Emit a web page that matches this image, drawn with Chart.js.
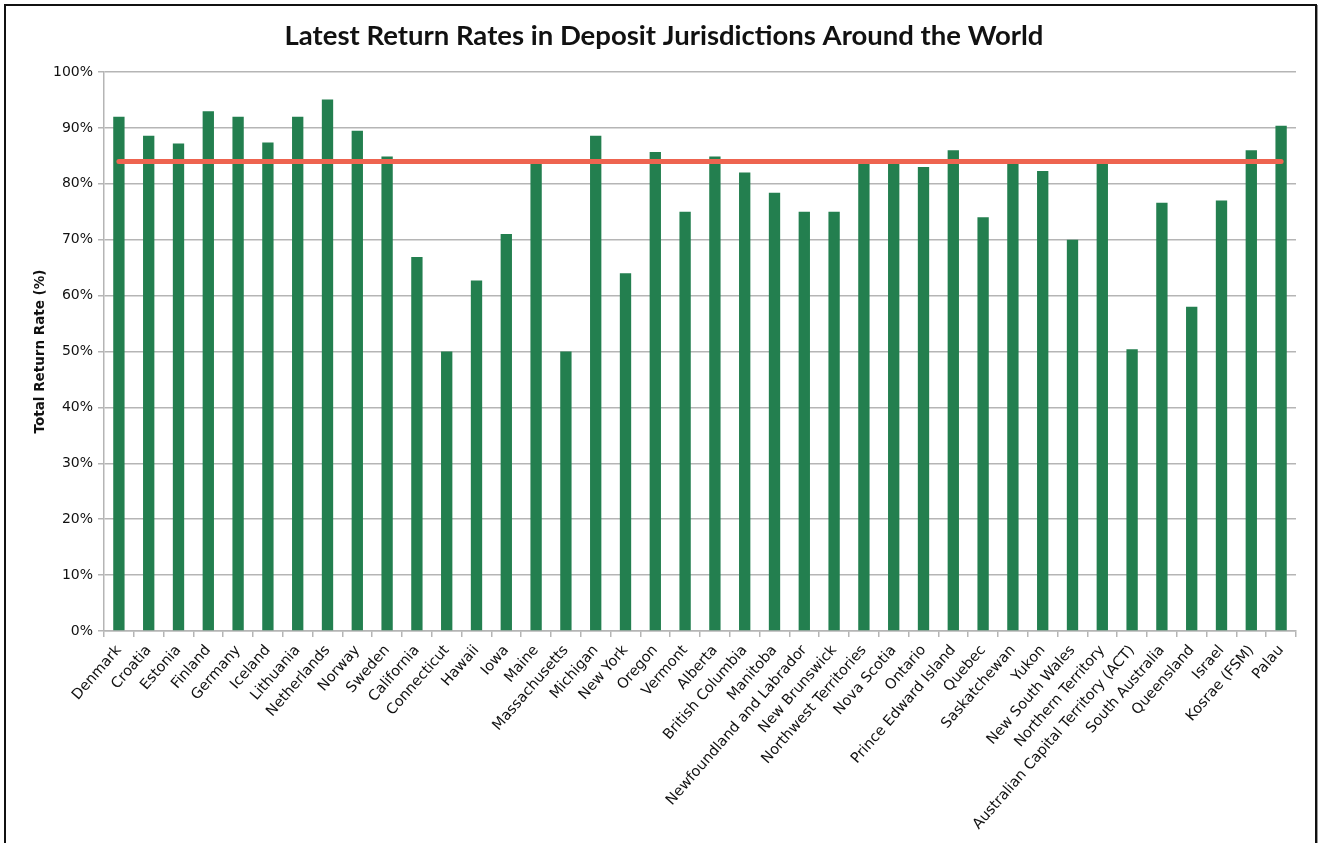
<!DOCTYPE html>
<html>
<head>
<meta charset="utf-8">
<script src="https://cdn.jsdelivr.net/npm/chart.js@4"></script>
<style>
  html, body { margin: 0; padding: 0; background: #fff; }
  #wrap { position: relative; width: 1320px; height: 843px; overflow: hidden; }
  #frame { position: absolute; left: 4px; top: 4px; width: 1309px; height: 900px;
           border: 2px solid #111; box-shadow: 1px 1px 0 #999; pointer-events: none; }
  canvas { position: absolute; left: 0; top: 0; }
</style>
</head>
<body>
<div id="wrap">
  <canvas id="c" width="1320" height="843"></canvas>
  <div id="frame"></div>
</div>
<script>
const chartTitle = "Latest Return Rates in Deposit Jurisdictions Around the World";
const yAxisTitle = "Total Return Rate (%)";

const categories = [
  "Denmark", "Croatia", "Estonia", "Finland", "Germany", "Iceland", "Lithuania",
  "Netherlands", "Norway", "Sweden", "California", "Connecticut", "Hawaii", "Iowa",
  "Maine", "Massachusetts", "Michigan", "New York", "Oregon", "Vermont", "Alberta",
  "British Columbia", "Manitoba", "Newfoundland and Labrador", "New Brunswick",
  "Northwest Territories", "Nova Scotia", "Ontario", "Prince Edward Island", "Quebec",
  "Saskatchewan", "Yukon", "New South Wales", "Northern Territory",
  "Australian Capital Territory (ACT)", "South Australia", "Queensland", "Israel",
  "Kosrae (FSM)", "Palau"
];

const returnRates = [
  92, 88.6, 87.2, 93, 92, 87.4, 92,
  95.1, 89.5, 84.9, 66.9, 50, 62.7, 71,
  83.8, 50, 88.6, 64, 85.7, 75, 84.9,
  82, 78.4, 75, 75,
  83.8, 83.8, 83, 86, 74,
  83.8, 82.3, 70, 83.8,
  50.4, 76.6, 58, 77,
  86, 90.4
];

const averageRate = 84;
const averageLine = [
  { x: "Denmark", y: averageRate },
  { x: "Palau", y: averageRate }
];

const yTicks = [0, 10, 20, 30, 40, 50, 60, 70, 80, 90, 100];

new Chart(document.getElementById('c'), {
  type: 'bar',
  data: {
    labels: categories,
    datasets: [
      {
        type: 'line',
        data: averageLine,
        borderColor: '#EE6450',
        borderWidth: 5,
        borderCapStyle: 'round',
        pointRadius: 0,
        fill: false,
        order: 0
      },
      {
        type: 'bar',
        data: returnRates,
        backgroundColor: '#237F4F',
        borderWidth: 0,
        categoryPercentage: 1,
        barPercentage: 0.38,
        order: 1
      }
    ]
  },
  options: {
    responsive: false,
    animation: false,
    layout: { padding: { left: 32, right: 24, top: 0, bottom: 0 } },
    plugins: {
      legend: { display: false },
      tooltip: { enabled: false },
      title: {
        display: true,
        text: chartTitle,
        color: '#111',
        font: { family: 'Lato', size: 27.5, weight: 'bold', lineHeight: 1.2 },
        padding: { top: 20, bottom: 19 }
      }
    },
    scales: {
      x: {
        grid: { drawOnChartArea: false, drawTicks: true, tickLength: 6, color: '#b5b5b5', lineWidth: 1.5 },
        border: { color: '#b5b5b5', width: 1.5 },
        ticks: {
          autoSkip: false, maxRotation: 49, minRotation: 49, padding: 5,
          color: '#111', font: { family: 'DejaVu Sans', size: 14.5 }
        },
        afterFit: (s) => { s.height = 212; }
      },
      y: {
        min: 0, max: 100,
        afterBuildTicks: (s) => { s.ticks = yTicks.map(v => ({ value: v })); },
        grid: { color: '#b5b5b5', lineWidth: 1.5, tickLength: 6 },
        border: { color: '#b5b5b5', width: 1.5 },
        ticks: {
          padding: 5, color: '#111',
          font: { family: 'DejaVu Sans', size: 14 },
          callback: (v) => v + '%'
        },
        title: {
          display: true, text: yAxisTitle, color: '#111', padding: 0,
          font: { family: 'DejaVu Sans', size: 13.5, weight: 'bold', lineHeight: 1.2 }
        },
        afterFit: (s) => { s.width = 72; }
      }
    }
  }
});
</script>
</body>
</html>
